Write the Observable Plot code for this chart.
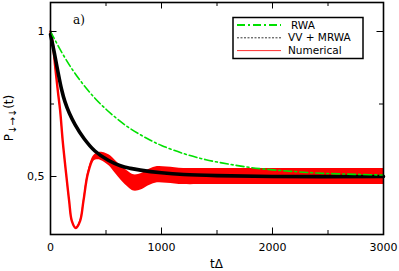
<!DOCTYPE html>
<html><head><meta charset="utf-8">
<script src="https://cdn.jsdelivr.net/npm/d3@7"></script>
<script src="https://cdn.jsdelivr.net/npm/@observablehq/plot@0.6"></script>
<style>body{margin:0;background:#fff}svg{font-family:"DejaVu Sans",sans-serif}</style>
</head><body><div id="chart"></div>
<script>
// RWA (green dash-dot)
const rwaT = [0,100,200,300,400,500,600,700,800,900,1000,1200,1400,1600,1800,2000,2200,2400,2600,2800,3000];
const rwaP = [1.0,0.929,0.867,0.815,0.770,0.732,0.699,0.670,0.646,0.625,0.607,0.579,0.558,0.543,0.531,0.523,0.517,0.512,0.509,0.507,0.505];
// VV + MRWA (black)
const vvT = [0,30,60,100,130,170,220,300,400,520,630,720,810,1000,1200,1500,2000,3000];
const vvP = [0.99,0.935,0.875,0.80,0.758,0.718,0.68,0.632,0.588,0.556,0.537,0.528,0.522,0.513,0.507,0.503,0.5,0.5];
// Numerical (red): centre and half-width of the fast oscillation band
const numT = [0,20,42,66,87,110,141,168,192,228,267,297,336,387,430,470,530,580,640,700,750,820,880,945,1050,1200,1400,2000,3000];
const numP = [1.0,0.96,0.88,0.795,0.727,0.623,0.509,0.416,0.347,0.322,0.347,0.416,0.509,0.562,0.57,0.568,0.555,0.535,0.51,0.49,0.478,0.482,0.495,0.505,0.505,0.5,0.5,0.5,0.5];
const numH = [0.002,0.002,0.002,0.002,0.002,0.002,0.003,0.003,0.003,0.003,0.003,0.004,0.006,0.009,0.012,0.015,0.019,0.022,0.025,0.027,0.028,0.028,0.028,0.028,0.028,0.028,0.028,0.028,0.028];
// axes
const xTickLabels = [0,1000,2000,3000];
const xMinor = [500,1500,2500];
const xMajor = [1000,2000];
const yTickValues = [0.5,1];
const yTickLabels = ["0,5","1"];
const yMinor = [0.75];
const legendLabels = ["RWA","VV + MRWA","Numerical"];

const rwa = rwaT.map((t,i)=>({t, p:rwaP[i]}));
const vv = vvT.map((t,i)=>({t, p:vvP[i]}));
const num = numT.map((t,i)=>({t, p:numP[i], h:numH[i]}));

const X0=0, X1=3000, Y0=0.3, Y1=1.1;
const pxPerX = (399-50-16)/(X1-X0), pxPerY = (271-2-37)/(Y1-Y0);
const lenY = px => px/pxPerY, lenX = px => px/pxPerX;

const plot = Plot.plot({
  width: 399, height: 271,
  marginLeft: 50, marginRight: 16, marginTop: 2, marginBottom: 37,
  style: {fontFamily: "DejaVu Sans, sans-serif", fontSize: "11px", background: "white"},
  x: {domain: [X0, X1], label: null},
  y: {domain: [Y0, Y1], label: null},
  marks: [
    Plot.areaY(num, {x:"t", y1: d=>d.p-d.h, y2: d=>d.p+d.h, fill:"#ff0000", curve:"catmull-rom"}),
    Plot.line(num, {x:"t", y:"p", stroke:"#ff0000", strokeWidth:2.4, curve:"catmull-rom"}),
    Plot.line(vv, {x:"t", y:"p", stroke:"#000", strokeWidth:3.6, curve:"catmull-rom"}),
    Plot.line(rwa, {x:"t", y:"p", stroke:"#00e000", strokeWidth:1.6, strokeDasharray:"8,3,2,3", curve:"catmull-rom"}),
    // inward ticks
    Plot.ruleX(xMajor, {x:d=>d, y1:Y0, y2:Y0+lenY(6.5), stroke:"#000", strokeWidth:1}),
    Plot.ruleX(xMinor, {x:d=>d, y1:Y0, y2:Y0+lenY(4), stroke:"#000", strokeWidth:1}),
    Plot.ruleX(xMajor, {x:d=>d, y1:Y1, y2:Y1-lenY(6.5), stroke:"#000", strokeWidth:1}),
    Plot.ruleX(xMinor, {x:d=>d, y1:Y1, y2:Y1-lenY(4), stroke:"#000", strokeWidth:1}),
    Plot.ruleY(yTickValues, {y:d=>d, x1:X0, x2:X0+lenX(6.5), stroke:"#000", strokeWidth:1}),
    Plot.ruleY(yMinor, {y:d=>d, x1:X0, x2:X0+lenX(4), stroke:"#000", strokeWidth:1}),
    Plot.ruleY(yTickValues, {y:d=>d, x1:X1, x2:X1-lenX(6.5), stroke:"#000", strokeWidth:1}),
    Plot.ruleY(yMinor, {y:d=>d, x1:X1, x2:X1-lenX(4), stroke:"#000", strokeWidth:1}),
    Plot.axisX(xTickLabels, {tickSize:0, tickPadding:9, tickFormat:d=>String(d), fontSize:11}),
    Plot.axisY(yTickValues, {tickSize:0, tickPadding:6, tickFormat:(d)=>yTickLabels[yTickValues.indexOf(d)], fontSize:11}),
    Plot.frame({stroke:"#000", strokeWidth:1.6})
  ]
});
const svg = d3.select(plot);
// panel label
svg.append("text").attr("x",73).attr("y",24).attr("text-anchor","start").attr("font-family","DejaVu Serif, serif").attr("font-size",12).text("a)");
// x label
svg.append("text").attr("x",216.5).attr("y",268).attr("text-anchor","middle").attr("font-size",12).text("tΔ");
// y label
const yl = svg.append("text").attr("transform","translate(13,118) rotate(-90)").attr("text-anchor","middle").attr("font-size",12);
yl.append("tspan").text("P");
yl.append("tspan").attr("font-size",10).attr("dy",3).text("↓→↓");
yl.append("tspan").attr("dy",-3).text("(t)");
// legend
const lg = svg.append("g");
lg.append("rect").attr("x",233).attr("y",17.5).attr("width",130).attr("height",41).attr("fill","#fff").attr("stroke","#000").attr("stroke-width",1.5);
const styles = [
  {stroke:"#00e000", w:2, dash:"8,3,2,3"},
  {stroke:"#000", w:0.8, dash:"2,1.5"},
  {stroke:"#ff3030", w:1, dash:null}
];
legendLabels.forEach((lab,i)=>{
  const y = 25 + i*12.8;
  const ln = lg.append("line").attr("x1",237).attr("x2",281).attr("y1",y).attr("y2",y)
    .attr("stroke",styles[i].stroke).attr("stroke-width",styles[i].w);
  if (styles[i].dash) ln.attr("stroke-dasharray",styles[i].dash);
  lg.append("text").attr("x", i===0?291:288).attr("y",y+3.6).attr("text-anchor","start").attr("font-size",10.5).text(lab);
});
document.getElementById("chart").appendChild(plot);
</script></body></html>
